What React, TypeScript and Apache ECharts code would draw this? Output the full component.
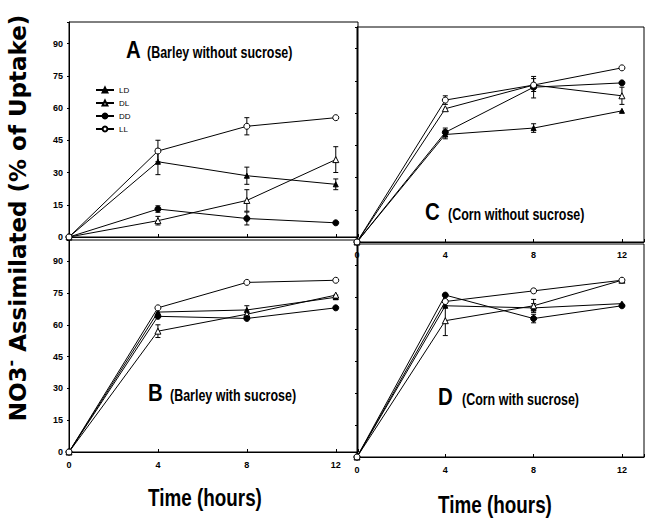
import React, { useEffect, useRef } from "react";
import * as echarts from "echarts";

const hours = [0, 4, 8, 12];
const yTicks = [0, 15, 30, 45, 60, 75, 90];
const seriesNames = ["LD", "DL", "DD", "LL"];

// Panel A: Barley without sucrose
const aLD = [0, 35, 28.5, 24.5];
const aDL = [0, 7.6, 17, 36];
const aDD = [0, 13, 8.6, 6.6];
const aLL = [0, 40, 51.5, 55.5];
const aLDErr = [0, 6, 4, 2.5];
const aDLErr = [0, 2, 5, 6];
const aDDErr = [0, 1.5, 3, 0];
const aLLErr = [0, 5, 4, 0];

// Panel B: Barley with sucrose
const bLD = [0, 66, 67, 73];
const bDL = [0, 57, 65, 74];
const bDD = [0, 64, 63, 68];
const bLL = [0, 68, 80, 81];
const bLDErr = [0, 0, 2, 1];
const bDLErr = [0, 3, 0, 0];
const bDDErr = [0, 0, 0, 0];
const bLLErr = [0, 0, 0, 0];

// Panel C: Corn without sucrose
const cLD = [0, 50, 53, 61];
const cDL = [0, 62, 73, 68];
const cDD = [0, 51, 72, 74];
const cLL = [0, 66, 73, 81];
const cLDErr = [0, 2, 2, 0];
const cDLErr = [0, 0, 3, 4];
const cDDErr = [0, 2, 5, 0];
const cLLErr = [0, 2, 0, 0];

// Panel D: Corn with sucrose
const dLD = [0, 71, 70, 72];
const dDL = [0, 64, 71, 83];
const dDD = [0, 76, 65, 71];
const dLL = [0, 73, 78, 83];
const dLDErr = [0, 0, 2, 0];
const dDLErr = [0, 7, 3, 0];
const dDDErr = [0, 0, 2, 0];
const dLLErr = [0, 0, 0, 0];

const panelValues = [
  [aLD, aDL, aDD, aLL],
  [bLD, bDL, bDD, bLL],
  [cLD, cDL, cDD, cLL],
  [dLD, dDL, dDD, dLL],
];
const panelErrors = [
  [aLDErr, aDLErr, aDDErr, aLLErr],
  [bLDErr, bDLErr, bDDErr, bLLErr],
  [cLDErr, cDLErr, cDDErr, cLLErr],
  [dLDErr, dDLErr, dDDErr, dLLErr],
];

const markerSymbol = ["triangle", "triangle", "circle", "circle"];
const markerFilled = [true, false, true, false];

const TICK_FONT = "'Liberation Sans Narrow', 'Liberation Sans', Arial, sans-serif";

export default function App() {
  const ref = useRef<HTMLDivElement>(null);
  useEffect(() => {
    if (!ref.current) return;
    const chart = echarts.init(ref.current, null, { renderer: "svg" });

    const grids = [
      { left: 69, top: 22, width: 289, height: 215 },
      { left: 69, top: 240, width: 289, height: 212 },
      { left: 357, top: 27, width: 290, height: 215 },
      { left: 357, top: 244, width: 290, height: 213 },
    ].map((g) => ({ ...g, show: true, borderColor: "#000", borderWidth: 1, backgroundColor: "transparent" }));

    const showXLabels = [false, true, true, true];
    const showYLabels = [true, true, false, false];

    const xAxis = grids.map((_, i) => ({
      type: "value",
      gridIndex: i,
      min: 0,
      max: 13,
      interval: 4,
      axisLine: { show: true, lineStyle: { color: "#000", width: 1 } },
      axisTick: { show: true, inside: true, length: 3, lineStyle: { color: "#000" } },
      splitLine: { show: false },
      axisLabel: {
        show: showXLabels[i],
        fontSize: 9,
        fontWeight: "bold",
        color: "#000",
        fontFamily: TICK_FONT,
        margin: 8,
        formatter: (v: number) => (hours.includes(v) ? String(v) : ""),
      },
    }));

    const yAxis = grids.map((_, i) => ({
      type: "value",
      gridIndex: i,
      min: 0,
      max: 100,
      interval: 15,
      axisLine: { show: true, lineStyle: { color: "#000", width: 1 } },
      axisTick: { show: true, inside: false, length: 2, lineStyle: { color: "#000" } },
      splitLine: { show: false },
      axisLabel: {
        show: showYLabels[i],
        fontSize: 9,
        fontWeight: "bold",
        color: "#000",
        fontFamily: TICK_FONT,
        margin: 6,
        formatter: (v: number) => (yTicks.includes(v) ? String(v) : ""),
      },
    }));

    const series: any[] = [];
    panelValues.forEach((vals, p) => {
      vals.forEach((arr, s) => {
        series.push({
          type: "line",
          name: seriesNames[s],
          xAxisIndex: p,
          yAxisIndex: p,
          data: hours.map((h, k) => [h, arr[k]]),
          symbol: markerSymbol[s],
          symbolSize: s === 0 ? 5 : 6,
          lineStyle: { color: "#000", width: 1 },
          itemStyle: {
            color: markerFilled[s] ? "#000" : "#fff",
            borderColor: "#000",
            borderWidth: 1,
          },
          z: 3,
        });
        const errs = panelErrors[p][s];
        const errData = hours
          .map((h, k) => [h, arr[k], errs[k]])
          .filter((d) => d[2] > 0);
        if (errData.length) {
          series.push({
            type: "custom",
            name: seriesNames[s],
            xAxisIndex: p,
            yAxisIndex: p,
            data: errData,
            z: 2,
            renderItem: (params: any, api: any) => {
              const x = api.value(0);
              const y = api.value(1);
              const e = api.value(2);
              const top = api.coord([x, y + e]);
              const bot = api.coord([x, y - e]);
              const w = 2.5;
              const st = { stroke: "#000", lineWidth: 1 };
              return {
                type: "group",
                children: [
                  { type: "line", shape: { x1: top[0], y1: top[1], x2: bot[0], y2: bot[1] }, style: st },
                  { type: "line", shape: { x1: top[0] - w, y1: top[1], x2: top[0] + w, y2: top[1] }, style: st },
                  { type: "line", shape: { x1: bot[0] - w, y1: bot[1], x2: bot[0] + w, y2: bot[1] }, style: st },
                ],
              };
            },
          });
        }
      });
    });

    const letterStyle = {
      fontSize: 24,
      fontWeight: "bold",
      fill: "#000",
      fontFamily: "'Liberation Sans', Arial, sans-serif",
      verticalAlign: "middle",
      align: "left",
    };
    const subStyle = {
      fontSize: 16,
      fontWeight: "bold",
      fill: "#000",
      fontFamily: "'Liberation Sans', Arial, sans-serif",
      verticalAlign: "middle",
      align: "left",
    };

    const panelLabels = [
      { letter: "A", text: "(Barley without sucrose)", x: 126, y: 50, tx: 147 },
      { letter: "B", text: "(Barley with sucrose)", x: 148, y: 393, tx: 170 },
      { letter: "C", text: "(Corn without sucrose)", x: 425, y: 212, tx: 448 },
      { letter: "D", text: "(Corn with sucrose)", x: 438, y: 397, tx: 462 },
    ];

    const graphic: any[] = [];
    panelLabels.forEach((l) => {
      graphic.push({ type: "text", x: l.x, y: l.y, scaleX: 0.85, style: { ...letterStyle, text: l.letter } });
      graphic.push({ type: "text", x: l.tx, y: l.y + 2, scaleX: 0.78, style: { ...subStyle, text: l.text } });
    });
    const titleFont = "'DejaVu Sans', sans-serif";
    graphic.push({
      type: "text",
      x: 18,
      y: 218,
      rotation: Math.PI / 2,
      style: {
        text: "{a|NO3}{s|-}{a| Assimilated (% of Uptake)}",
        fill: "#000",
        align: "center",
        verticalAlign: "middle",
        rich: {
          a: { fontSize: 23, fontWeight: "bold", fontFamily: titleFont, fill: "#000", lineHeight: 28 },
          s: { fontSize: 16, fontWeight: "bold", fontFamily: titleFont, fill: "#000", padding: [0, 0, 16, 0], lineHeight: 28 },
        },
      },
    });
    ["left", "right"].forEach((side) => {
      graphic.push({
        type: "text",
        x: side === "left" ? 205 : 495,
        y: side === "left" ? 498 : 505,
        scaleX: 0.82,
        style: {
          text: "Time (hours)",
          fontSize: 23,
          fontWeight: "bold",
          fill: "#000",
          fontFamily: "'Liberation Sans', Arial, sans-serif",
          align: "center",
          verticalAlign: "middle",
        },
      });
    });

    chart.setOption({
      animation: false,
      backgroundColor: "#fff",
      grid: grids,
      xAxis,
      yAxis,
      series,
      graphic,
      legend: {
        data: seriesNames,
        orient: "vertical",
        left: 90,
        top: 81,
        itemWidth: 18,
        itemHeight: 6,
        itemGap: 5,
        selectedMode: false,
        textStyle: { fontSize: 8, color: "#000", fontFamily: TICK_FONT },
      },
    });
    return () => chart.dispose();
  }, []);

  return (
    <div
      ref={ref}
      style={{ position: "fixed", left: 0, top: 0, width: 647, height: 528, background: "#fff" }}
    />
  );
}
